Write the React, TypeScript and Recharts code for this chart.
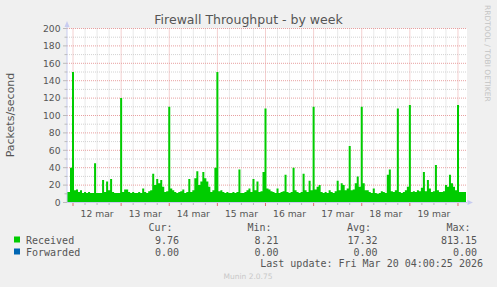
import React from 'react';
import { ComposedChart, Area, XAxis, YAxis, CartesianGrid } from 'recharts';

const W = 497;
const H = 287;

const START_HOUR = -3;
const END_HOUR = 196.5;

const dayLabels = ['12 mar', '13 mar', '14 mar', '15 mar', '16 mar', '17 mar', '18 mar', '19 mar'];

// Received packets/second, one value per hour, starting 11 mar 21:00
const received11Mar = [12, 12, 40];
const received12Mar = [150, 14, 15, 12, 14, 11, 12, 11, 12, 11, 11, 45, 11, 11, 11, 26, 12, 24, 14, 27, 12, 11, 11, 11];
const received13Mar = [120, 12, 15, 15, 12, 11, 12, 11, 11, 12, 11, 16, 12, 11, 13, 14, 33, 20, 27, 22, 26, 18, 12, 13];
const received14Mar = [110, 16, 14, 12, 11, 12, 13, 15, 11, 12, 27, 12, 14, 28, 36, 20, 24, 35, 28, 24, 18, 12, 14, 40];
const received15Mar = [150, 13, 14, 12, 11, 12, 11, 11, 12, 11, 12, 38, 11, 11, 12, 14, 16, 12, 27, 14, 24, 12, 13, 35];
const received16Mar = [108, 16, 15, 13, 12, 11, 16, 11, 12, 13, 32, 12, 11, 12, 40, 14, 12, 11, 12, 33, 14, 12, 25, 14];
const received17Mar = [110, 15, 18, 20, 12, 11, 12, 11, 14, 12, 11, 13, 25, 14, 22, 20, 14, 16, 65, 14, 15, 22, 30, 18];
const received18Mar = [110, 22, 14, 14, 12, 11, 16, 11, 10, 11, 13, 12, 11, 32, 38, 13, 12, 14, 108, 12, 11, 12, 14, 18];
const received19Mar = [112, 12, 13, 12, 14, 13, 17, 35, 13, 26, 16, 12, 13, 43, 14, 12, 12, 13, 20, 18, 32, 22, 18, 14];
const received20Mar = [112, 12, 12, 12, 12];

// Forwarded packets/second: zero throughout
const forwardedLevel = 0;

const yTickValues = [0, 10, 20, 30, 40, 50, 60, 70, 80, 90, 100, 110, 120, 130, 140, 150, 160, 170, 180, 190, 200];
const xTickHours = [0, 6, 12, 18, 24, 30, 36, 42, 48, 54, 60, 66, 72, 78, 84, 90, 96, 102, 108, 114, 120, 126, 132, 138, 144, 150, 156, 162, 168, 174, 180, 186, 192];

const legendNames = ['Received', 'Forwarded'];
const legendColors = ['#00CC00', '#0066B3'];
const curValues = ['9.76', '0.00'];
const minValues = ['8.21', '0.00'];
const avgValues = ['17.32', '0.00'];
const maxValues = ['813.15', '0.00'];
const lastUpdate = 'Last update: Fri Mar 20 04:00:25 2026';

const receivedAll = [
  ...received11Mar, ...received12Mar, ...received13Mar, ...received14Mar, ...received15Mar,
  ...received16Mar, ...received17Mar, ...received18Mar, ...received19Mar, ...received20Mar,
];
const data = receivedAll.map((v, i) => ({ h: START_HOUR + i, received: v, forwarded: forwardedLevel }));

const minorY = yTickValues.filter((v) => v % 20 !== 0);
const majorY = yTickValues.filter((v) => v % 20 === 0 && v > 0);
const minorX = xTickHours.filter((h) => h % 24 !== 0);
const majorX = xTickHours.filter((h) => h % 24 === 0);

const RED = '#E8A0A0';
const GREY = '#D2D2D2';
const AXIS = '#C8CCF0';
const TEXT = '#555555';
const SANS = 'DejaVu Sans';
const MONO = 'DejaVu Sans Mono';

const XTick = (props: any) => {
  const { x, y, payload } = props;
  const h = payload.value as number;
  const major = h % 24 === 0;
  const isNoon = h % 24 === 12;
  const label = isNoon ? dayLabels[Math.floor(h / 24)] : null;
  return (
    <g>
      <line x1={x} x2={x} y1={y + 0.5} y2={y + (major ? 3.5 : 2.5)} stroke={major ? '#E07070' : '#BBBBBB'} strokeWidth={1} />
      {label && (
        <text x={x} y={y + 14} textAnchor="middle" fontFamily={SANS} fontSize={9.2} fill={TEXT}>
          {label}
        </text>
      )}
    </g>
  );
};

const YTick = (props: any) => {
  const { x, y, payload } = props;
  const v = payload.value as number;
  const major = v % 20 === 0;
  return (
    <g>
      <line x1={x - (major ? 4 : 2.5)} x2={x} y1={y} y2={y} stroke="#BBBBBB" strokeWidth={1} />
      {major && (
        <text x={x - 6.5} y={y + 3.3} textAnchor="end" fontFamily={SANS} fontSize={9.2} fill={TEXT}>
          {v}
        </text>
      )}
    </g>
  );
};

export default function App() {
  return (
    <div style={{ position: 'absolute', left: 0, top: 0, width: W, height: H, background: '#F0F0F0', overflow: 'hidden' }}>
      <ComposedChart width={W} height={H} data={data} margin={{ top: 28.5, right: 30, bottom: 64.5, left: 0 }}>
        <CartesianGrid
          fill="#FFFFFF"
          stroke={GREY}
          strokeDasharray="1 1"
          horizontalValues={minorY}
          verticalValues={minorX}
        />
        <CartesianGrid
          stroke={RED}
          strokeDasharray="1 1"
          horizontalValues={majorY}
          verticalValues={majorX}
        />
        <XAxis
          dataKey="h"
          type="number"
          domain={[START_HOUR, END_HOUR]}
          allowDataOverflow
          ticks={xTickHours}
          interval={0}
          height={20}
          tickSize={0}
          tickMargin={0}
          tickLine={false}
          axisLine={{ stroke: AXIS, strokeWidth: 1 }}
          tick={<XTick />}
        />
        <YAxis
          type="number"
          domain={[0, 200]}
          allowDataOverflow
          ticks={yTickValues}
          interval={0}
          width={67}
          tickSize={0}
          tickMargin={0}
          tickLine={false}
          axisLine={{ stroke: AXIS, strokeWidth: 1 }}
          tick={<YTick />}
        />
        <Area
          type="step"
          dataKey="received"
          stackId="a"
          fill="#00CC00"
          fillOpacity={1}
          stroke="none"
          isAnimationActive={false}
          dot={false}
          activeDot={false}
        />
        <Area
          type="step"
          dataKey="forwarded"
          stackId="a"
          fill="#0066B3"
          fillOpacity={1}
          stroke="none"
          isAnimationActive={false}
          dot={false}
          activeDot={false}
        />
      </ComposedChart>
      <svg width={W} height={H} style={{ position: 'absolute', left: 0, top: 0, pointerEvents: 'none' }}>
        <polygon points="64.5,27 69.5,27 67,21" fill={AXIS} />
        <line x1={67} x2={67} y1={24} y2={28.5} stroke={AXIS} />
        <polygon points="467.5,200 467.5,205 473,202.5" fill={AXIS} />
        <text x={248.5} y={24} textAnchor="middle" fontFamily={SANS} fontSize={12.5} fill={TEXT}>
          Firewall Throughput - by week
        </text>
        <text transform="translate(14,115) rotate(-90)" textAnchor="middle" fontFamily={SANS} fontSize={11} fill={TEXT}>
          Packets/second
        </text>
        <text transform="translate(485,5) rotate(90)" textAnchor="start" fontFamily={SANS} fontSize={7.5} fill="#C4C4C4">
          RRDTOOL / TOBI OETIKER
        </text>
        <g fontFamily={MONO} fontSize={10} fill={TEXT}>
          <text x={172.5} y={231} textAnchor="end">Cur:</text>
          <text x={271.5} y={231} textAnchor="end">Min:</text>
          <text x={371} y={231} textAnchor="end">Avg:</text>
          <text x={470.5} y={231} textAnchor="end">Max:</text>
          {legendNames.map((name, i) => {
            const yb = 243.5 + i * 12;
            return (
              <g key={name}>
                <rect x={14} y={yb - 7} width={6} height={6} fill={legendColors[i]} />
                <text x={26} y={yb}>{name}</text>
                <text x={179} y={yb} textAnchor="end">{curValues[i]}</text>
                <text x={278.5} y={yb} textAnchor="end">{minValues[i]}</text>
                <text x={377.5} y={yb} textAnchor="end">{avgValues[i]}</text>
                <text x={477} y={yb} textAnchor="end">{maxValues[i]}</text>
              </g>
            );
          })}
          <text x={483} y={267} textAnchor="end">{lastUpdate}</text>
        </g>
        <text x={248} y={279} textAnchor="middle" fontFamily={SANS} fontSize={7.5} fill="#C8C8C8">
          Munin 2.0.75
        </text>
      </svg>
    </div>
  );
}
